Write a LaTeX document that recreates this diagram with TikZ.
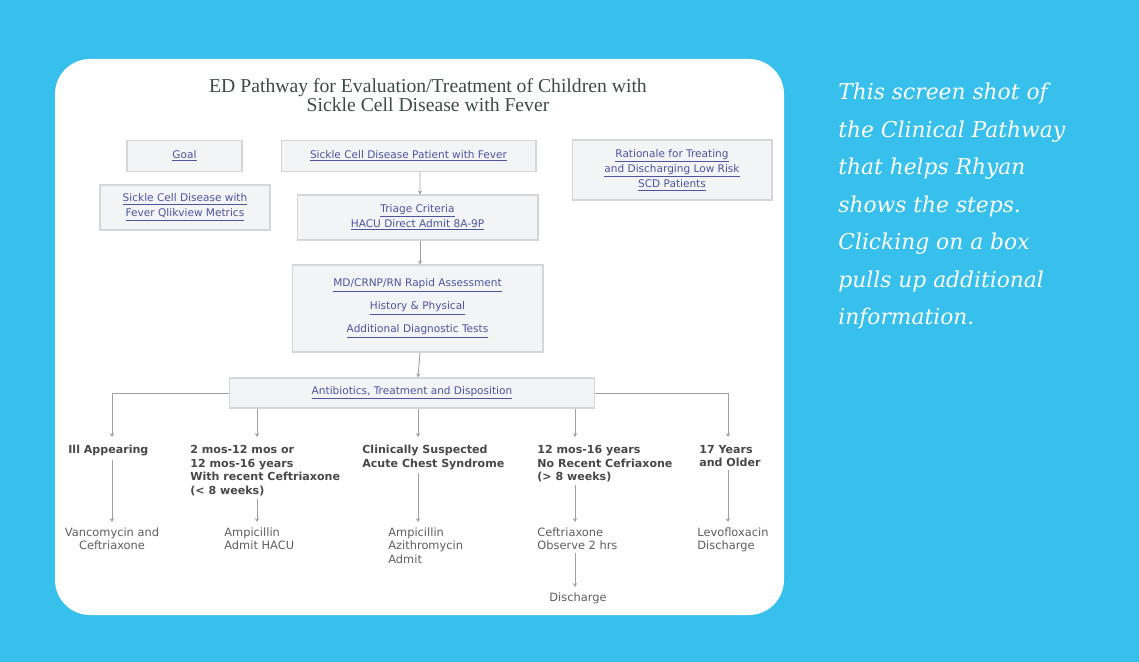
\documentclass[tikz,border=0pt]{standalone}
\usepackage{fontspec}
\usepackage{xcolor}
\usepackage{tikz}
\usetikzlibrary{arrows.meta,positioning}

\setmainfont{Liberation Serif}
\newfontfamily\diafont{DejaVu Sans}
\newfontfamily\notefont{DejaVu Serif}

\definecolor{skyblue}{RGB}{55,192,236}
\definecolor{linkblue}{RGB}{78,84,160}
\definecolor{boxfill}{RGB}{243,244,246}
\definecolor{boxline}{RGB}{212,214,218}
\definecolor{wire}{RGB}{160,160,160}
\definecolor{labgray}{RGB}{72,72,72}
\definecolor{txtgray}{RGB}{95,95,95}
\definecolor{titlegray}{RGB}{62,74,72}

\newcommand{\lnk}[1]{\underline{#1}}

\begin{document}
\begin{tikzpicture}[x=0.02cm, y=-0.02cm, >={Stealth[length=2.2pt,width=2.4pt]},
  pathbox/.style={draw=boxline, fill=boxfill, line width=0.6pt, align=center,
    font=\diafont\fontsize{6}{8.6}\selectfont, text=linkblue, inner sep=0pt},
  crit/.style={anchor=north west, align=left, inner sep=0pt, text=labgray,
    font=\diafont\bfseries\fontsize{6.3}{7.7}\selectfont},
  treat/.style={anchor=north west, align=left, inner sep=0pt, text=txtgray,
    font=\diafont\fontsize{6.5}{7.7}\selectfont},
  wireline/.style={draw=wire, line width=0.5pt},
  arr/.style={wireline, ->}]

  % ----------------------
  % Fondo e pannello
  % ----------------------
  \useasboundingbox (0,0) rectangle (1139,662);
  \fill[skyblue] (0,0) rectangle (1139,662);
  \fill[white, rounded corners=20pt] (55,59) rectangle (784,615);

  % ----------------------
  % Titolo
  % ----------------------
  \node[text=titlegray, align=center, font=\fontsize{11.2}{11}\selectfont] (title) at (428,95)
    {ED Pathway for Evaluation/Treatment of Children with\\Sickle Cell Disease with Fever};

  % ----------------------
  % Riquadri in alto (misure in cm: 1px = 0.02cm)
  % ----------------------
  \node[pathbox, minimum width=2.3cm, minimum height=0.62cm] (goal) at (184.5,156) {\lnk{Goal}};
  \node[pathbox, minimum width=5.1cm, minimum height=0.62cm] (scdfever) at (408.5,156)
    {\lnk{Sickle Cell Disease Patient with Fever}};
  \node[pathbox, minimum width=4cm, minimum height=1.2cm] (rationale) at (672,170)
    {\lnk{Rationale for Treating}\\\lnk{and Discharging Low Risk}\\\lnk{SCD Patients}};
  \node[pathbox, minimum width=3.4cm, minimum height=0.9cm] (qlik) at (185,207.5)
    {\lnk{Sickle Cell Disease with}\\\lnk{Fever Qlikview Metrics}};
  \node[pathbox, minimum width=4.82cm, minimum height=0.9cm] (triage) at (417.5,217.5)
    {\lnk{Triage Criteria}\\\lnk{HACU Direct Admit 8A-9P}};
  \node[pathbox, minimum width=5.02cm, minimum height=1.74cm, font=\diafont\fontsize{6}{13}\selectfont]
    (assess) at (417.5,308.5)
    {\lnk{MD/CRNP/RN Rapid Assessment}\\\lnk{History \& Physical}\\\lnk{Additional Diagnostic Tests}};
  \node[pathbox, minimum width=7.32cm, minimum height=0.6cm] (abx) at (412,393)
    {\lnk{Antibiotics, Treatment and Disposition}};

  % ----------------------
  % Colonne dei rami
  % ----------------------
  \coordinate (col1) at (112,0);
  \coordinate (col2) at (257,0);
  \coordinate (col3) at (418,0);
  \coordinate (col4) at (575,0);
  \coordinate (col5) at (728,0);

  % ----------------------
  % Criteri (grassetto)
  % ----------------------
  \node[crit] (ill) at (68,445) {Ill Appearing};
  \node[crit] (young) at (190,445) {2 mos-12 mos or\\12 mos-16 years\\With recent Ceftriaxone\\(< 8 weeks)};
  \node[crit] (acs) at (362,445) {Clinically Suspected\\Acute Chest Syndrome};
  \node[crit] (older) at (537,445) {12 mos-16 years\\No Recent Cefriaxone\\(> 8 weeks)};
  \node[crit] (adult) at (699,445) {17 Years\\and Older};

  % ----------------------
  % Terapie
  % ----------------------
  \node[treat, align=center, anchor=north] (vanco) at (112,527) {Vancomycin and\\Ceftriaxone};
  \node[treat] (ampi) at (224,527) {Ampicillin\\Admit HACU};
  \node[treat] (ampiazi) at (388,527) {Ampicillin\\Azithromycin\\Admit};
  \node[treat] (ceftri) at (537,527) {Ceftriaxone\\Observe 2 hrs};
  \node[treat] (levo) at (697,527) {Levofloxacin\\Discharge};
  \node[treat, anchor=north] (disch) at (578,592) {Discharge};

  % ----------------------
  % Connettori
  % ----------------------
  \draw[arr] (scdfever.south -| triage.north) ++(2.5,0) -- ([xshift=0.05cm]triage.north);
  \draw[arr] ([xshift=0.05cm]triage.south) -- ([xshift=0.05cm]assess.north);
  \draw[arr] ([xshift=0.05cm]assess.south) -- ([xshift=0.12cm]abx.north);

  \draw[arr] (abx.west) -| ([yshift=0.16cm]ill.north -| col1);
  \draw[arr] (abx.east) -| ([yshift=0.16cm]adult.north -| col5);
  \foreach \c in {col2,col3,col4}
    \draw[arr] (abx.south -| \c) -- ([yshift=0.16cm]ill.north -| \c);

  \draw[arr] ([yshift=-0.06cm]ill.south -| col1) -- ([yshift=0.1cm]vanco.north -| col1);
  \draw[arr] ([yshift=-0.06cm]young.south -| col2) -- ([yshift=0.1cm]ampi.north -| col2);
  \draw[arr] ([yshift=-0.06cm]acs.south -| col3) -- ([yshift=0.1cm]ampiazi.north -| col3);
  \draw[arr] ([yshift=-0.06cm]older.south -| col4) -- ([yshift=0.1cm]ceftri.north -| col4);
  \draw[arr] ([yshift=-0.06cm]adult.south -| col5) -- ([yshift=0.1cm]levo.north -| col5);
  \draw[arr] ([yshift=-0.06cm]ceftri.south -| col4) -- ([yshift=0.1cm]disch.north -| col4);

  % ----------------------
  % Nota a destra
  % ----------------------
  \node[anchor=north west, align=left, inner sep=0pt, text=white,
    font=\notefont\itshape\fontsize{12.4}{21.3}\selectfont] (note) at (838,83)
    {This screen shot of\\the Clinical Pathway\\that helps Rhyan\\shows the steps.\\Clicking on a box\\pulls up additional\\information.};

\end{tikzpicture}
\end{document}
